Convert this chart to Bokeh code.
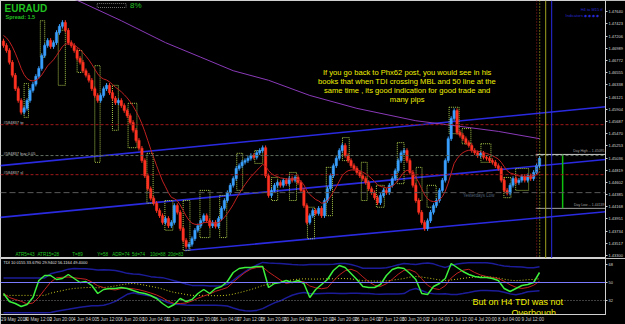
import pandas as pd
from bokeh.plotting import figure
from bokeh.layouts import column
from bokeh.models import Range1d, FixedTicker, Span, Label
from bokeh.embed import file_html
from bokeh.resources import INLINE
from bokeh.core.properties import value

# ---------------- data ----------------
closes = [
    1.4704, 1.4695, 1.4674, 1.4651, 1.4627, 1.4606, 1.4585, 1.4592, 1.4606, 1.4624,
    1.4635, 1.4649, 1.4663, 1.4686, 1.4704, 1.4713, 1.4702, 1.4709, 1.4727, 1.4738,
    1.4745, 1.4731, 1.4709, 1.4704, 1.4695, 1.4681, 1.4674, 1.4659, 1.4651, 1.4642,
    1.4627, 1.4615, 1.4606, 1.4615, 1.4627, 1.4633, 1.4620, 1.4610, 1.4602, 1.4606,
    1.4597, 1.4588, 1.4579, 1.4567, 1.4553, 1.4535, 1.4521, 1.4499, 1.4472, 1.4449,
    1.4432, 1.4423, 1.4410, 1.4401, 1.4389, 1.4396, 1.4383, 1.4389, 1.4419, 1.4407,
    1.4378, 1.4357, 1.4346, 1.4350, 1.4360, 1.4375, 1.4383, 1.4392, 1.4401, 1.4392,
    1.4383, 1.4389, 1.4382, 1.4396, 1.4414, 1.4428, 1.4442, 1.4455, 1.4467, 1.4485,
    1.4490, 1.4496, 1.4499, 1.4503, 1.4508, 1.4505, 1.4513, 1.4517, 1.4522, 1.4472,
    1.4437, 1.4446, 1.4455, 1.4460, 1.4455, 1.4464, 1.4458, 1.4467, 1.4464, 1.4469,
    1.4460, 1.4446, 1.4419, 1.4389, 1.4401, 1.4410, 1.4405, 1.4414, 1.4401, 1.4428,
    1.4449, 1.4472, 1.4490, 1.4503, 1.4517, 1.4526, 1.4508, 1.4499, 1.4490, 1.4485,
    1.4478, 1.4472, 1.4467, 1.4460, 1.4449, 1.4442, 1.4433, 1.4424, 1.4437, 1.4446,
    1.4442, 1.4455, 1.4467, 1.4481, 1.4499, 1.4513, 1.4517, 1.4499, 1.4478, 1.4455,
    1.4428, 1.4407, 1.4389, 1.4378, 1.4392, 1.4407, 1.4419, 1.4428, 1.4446, 1.4464,
    1.4499, 1.4538, 1.4574, 1.4588, 1.4549, 1.4544, 1.4538, 1.4531, 1.4526, 1.4517,
    1.4513, 1.4508, 1.4512, 1.4505, 1.4503, 1.4499, 1.4496, 1.4490, 1.4485, 1.4464,
    1.4446, 1.4441, 1.4455, 1.4467, 1.4460, 1.4464, 1.4471, 1.4464, 1.4472, 1.4467,
    1.4478, 1.4490, 1.4503,
]
first_open = 1.4712
ma_seed = 1.4725

purple_bars = [20, 26, 40, 55, 67, 78, 90, 104, 120, 140, 152, 168, 182]
purple_vals = [1.4795, 1.4782, 1.4748, 1.4709, 1.4683, 1.4659, 1.4642, 1.4615,
               1.4592, 1.4570, 1.4562, 1.4551, 1.4538]

channel_x0 = [-1.0, -1.0, 61.6]
channel_y0 = [1.4490, 1.4398, 1.4339]
channel_x1 = [204.4, 204.4, 204.4]
channel_y1 = [1.4595, 1.4501, 1.4408]

box_start = [7, 12.5, 18.6, 25, 31, 37, 42.3, 48.7, 54.8, 61, 66.7, 73.4, 79.2, 85.3, 91,
             97.1, 103.2, 109.6, 115.1, 121.5, 126.6, 133.7, 140.1, 143.8, 151.3, 155.7,
             162.1, 169.9, 173.9]
box_end = [8.5, 14, 21, 26.7, 32.8, 39, 45.3, 50.8, 57.5, 63.3, 70.1, 75.8, 81.2, 88, 93.1,
           99.5, 105.6, 111.7, 117.4, 123.5, 129.3, 136, 142.1, 146.9, 154.7, 158.7,
           165.5, 172.3, 178.3]
box_high = [1.4636, 1.4748, 1.4731, 1.4695, 1.4668, 1.4633, 1.4601, 1.4512, 1.4428, 1.4428,
            1.4446, 1.4437, 1.4512, 1.4517, 1.4469, 1.4478, 1.4416, 1.4487, 1.4540, 1.4496,
            1.4455, 1.4531, 1.4487, 1.4455, 1.4594, 1.4556, 1.4529, 1.4469, 1.4485]
box_low = [1.4576, 1.4683, 1.4633, 1.4656, 1.4496, 1.4553, 1.4522, 1.4423, 1.4375, 1.4339,
           1.4362, 1.4362, 1.4446, 1.4494, 1.4428, 1.4428, 1.4360, 1.4401, 1.4499, 1.4428,
           1.4416, 1.4458, 1.4428, 1.4416, 1.4547, 1.4529, 1.4496, 1.4433, 1.4446]

order_levels = [1.4563, 1.4508, 1.4474]
order_names = ["#584837 tp", "#584837 buy 0.05", "#584837 sl"]
grey_level = 1.4442
day_high = 1.4510
day_low = 1.4414

price_ticks = [1.47640, 1.47423, 1.47206, 1.46989, 1.46772, 1.46555, 1.46338, 1.46121,
               1.45904, 1.45687, 1.45470, 1.45253, 1.45036, 1.44819, 1.44602, 1.44385,
               1.44168, 1.43951, 1.43734, 1.43517, 1.43300]

date_bars = [0, 8, 16, 24, 32, 40, 48, 56, 64, 72, 80, 88, 96, 104, 112, 120, 128, 136,
             144, 152, 160, 168, 176]
date_labels = ["29 May 2014", "30 May 12:00", "2 Jun 20:00", "4 Jun 04:00", "5 Jun 12:00",
               "6 Jun 20:00", "10 Jun 04:00", "11 Jun 12:00", "12 Jun 20:00", "16 Jun 04:00",
               "17 Jun 12:00", "18 Jun 20:00", "20 Jun 04:00", "23 Jun 12:00", "24 Jun 20:00",
               "26 Jun 04:00", "27 Jun 12:00", "30 Jun 20:00", "2 Jul 04:00", "3 Jul 12:00",
               "4 Jul 20:00", "8 Jul 04:00", "9 Jul 12:00"]

tdi_bars = list(range(0, 183, 2))
tdi_green = [39, 31, 29, 26, 28, 35, 52, 57, 57, 53, 54, 58, 54, 50, 51, 47, 39, 43, 44, 44,
             45, 44, 42, 40, 39, 37, 34, 29, 25, 28, 34, 31, 33, 39, 43, 39, 44, 46, 51, 60,
             64, 65, 65, 66, 66, 45, 49, 50, 52, 50, 52, 49, 35, 43, 48, 53, 62, 67, 65, 59,
             53, 46, 45, 45, 48, 57, 63, 65, 64, 59, 53, 39, 38, 46, 49, 54, 69, 65, 61, 58,
             56, 55, 55, 54, 52, 44, 41, 44, 47, 48, 50, 60]
tdi_ticks = [32, 50, 68]

stats_text = ["ATR5=43", "ATR15=28", "T=89", "Y=58", "ADR=74", "5d=74", "10d=88", "20d=83"]
note_lines = ["If you go back to Phx62 post, you would see in his",
              "books that when TDI crossing MBL and 50 line at the",
              "same time , its good indication for good trade and",
              "many pips"]
tdi_note = ["But on H4 TDI was not", "Overbough"]

# ---------------- layout helpers (pixel -> data) ----------------
def bx(x):
    return (x - 3) / 2.955

def py(y):
    return 1.4784 - 0.000178 * y

def ty(y):
    return 332 - y

FONT = value("Liberation Sans")

# ---------------- derived series ----------------
n = len(closes)
bars = list(range(n))
opens = [first_open] + closes[:-1]
wick = 0.0004
up = [c >= o for o, c in zip(opens, closes)]
col = ["#3aa0ff" if u else "#ff3222" for u in up]
body_top = [max(o, c) for o, c in zip(opens, closes)]
body_bot = [min(o, c) for o, c in zip(opens, closes)]
highs = [t + wick for t in body_top]
lows = [b - wick for b in body_bot]
ma = pd.Series([ma_seed] + closes).ewm(span=12, adjust=False).mean().tolist()[1:]

g = pd.Series(tdi_green, dtype=float)
sig = g.rolling(4, min_periods=1).mean()
mbl = g.rolling(17, min_periods=8).mean().bfill()
sd = g.rolling(17, min_periods=8).std(ddof=0).bfill()
up_band = mbl + 1.6185 * sd
lo_band = mbl - 1.6185 * sd

# ---------------- main price panel ----------------
xr = Range1d(bx(0), bx(607))
p = figure(width=625, height=258, x_range=xr, y_range=Range1d(py(258), py(0)),
           output_backend="svg", toolbar_location=None, x_axis_location=None,
           y_axis_location="right", background_fill_color="black",
           border_fill_color="black", min_border_left=0, min_border_right=18,
           min_border_top=0, min_border_bottom=0, outline_line_color="#d0d0d0")
p.grid.visible = False
ax = p.yaxis[0]
ax.ticker = FixedTicker(ticks=price_ticks)
ax.major_label_overrides = {t: "%.5f" % t for t in price_ticks}
ax.major_label_text_font_size = "4px"
ax.major_label_text_color = "#d8d8d8"
ax.major_label_text_font = "Liberation Sans"
ax.axis_line_color = "#d0d0d0"
ax.major_tick_line_color = "#d0d0d0"
ax.major_tick_out = 2
ax.major_tick_in = 0
ax.minor_tick_line_color = None
ax.major_label_standoff = 1

# horizontal levels
for lvl, c in zip(order_levels, ["#a01818", "#5f6f5f", "#a01818"]):
    p.add_layout(Span(location=lvl, dimension="width", line_color=c, line_dash="3 2",
                      line_width=1))
p.add_layout(Span(location=grey_level, dimension="width", line_color="#5a5a5a",
                  line_dash="6 3", line_width=1))

# channel lines
p.segment(channel_x0, channel_y0, channel_x1, channel_y1, line_color="#2a2ae0", line_width=1.6)

# purple MA
p.line(purple_bars, purple_vals, line_color="#8a3ab8", line_width=1)

# boxes
p.quad(left=box_start, right=box_end, top=box_high, bottom=box_low, fill_color=None,
       line_color="#a8c84a", line_dash="1 1", line_width=1)

# candles
p.segment(bars, highs, bars, lows, line_color=col, line_width=1)
p.vbar(x=bars, width=0.8, top=body_top, bottom=body_bot, fill_color=col, line_color=col,
       line_width=0.5)

# red moving average
p.line(bars, ma, line_color="#c02020", line_width=1)

# vertical lines at right
p.add_layout(Span(location=bx(538), dimension="height", line_color="#a02020", line_dash="1 2"))
p.add_layout(Span(location=bx(541), dimension="height", line_color="#c8c820", line_dash="1 2"))
p.add_layout(Span(location=bx(547), dimension="height", line_color="#a0a020", line_width=1))
p.add_layout(Span(location=bx(553), dimension="height", line_color="#2a2ae0", line_width=1))
p.segment([bx(537), bx(537)], [day_high, day_low], [bx(607), bx(607)], [day_high, day_low],
          line_color=["#c8c8c8", "#a0a0a0"], line_width=1)
p.segment([bx(564)], [day_high], [bx(564)], [day_low], line_color="#10c010", line_width=1.5)

# texts
p.text([bx(4)], [py(8)], text=["EURAUD"], text_font=FONT, text_font_size="10px",
       text_font_style="bold", text_color="#20c020", text_baseline="middle")
p.text([bx(5)], [py(16)], text=["Spread: 1.5"], text_font=FONT, text_font_size="5.5px",
       text_font_style="bold", text_color="#20c020", text_baseline="middle")
p.quad(left=[bx(97)], right=[bx(126)], top=[py(3)], bottom=[py(7)], fill_color=None,
       line_color="#707070", line_dash="1 1")
p.text([bx(130)], [py(5)], text=["8%"], text_font=FONT, text_font_size="8px",
       text_color="#20c020", text_baseline="middle")
p.text([bx(3)] * 3, [py(122), py(152.5), py(171.5)], text=order_names, text_font=FONT,
       text_font_size="4px", text_color="#c0c0c0", text_baseline="middle")
stat_x = [15, 37, 72, 97, 112, 132, 150, 168]
p.text([bx(x) for x in stat_x], [py(254)] * len(stats_text), text=stats_text, text_font=FONT,
       text_font_size="4.6px", text_color="#20c020", text_baseline="middle")
p.text([bx(408)] * 4, [py(72), py(81), py(90), py(98.5)], text=note_lines, text_font=FONT,
       text_font_size="7.6px", text_color="#f0f000", text_align="center",
       text_baseline="middle")
p.text([bx(464)], [py(195)], text=["Yesterdays Low"], text_font=FONT, text_font_size="4.5px",
       text_color="#50607a", text_baseline="middle")
p.text([bx(606)] * 2, [py(152), py(206)], text=["Day High -- 1.45095", "Day Low -- 1.44139"],
       text_font=FONT, text_font_size="3.5px", text_color="#a0a0a0", text_align="right",
       text_baseline="bottom")
p.text([bx(604)], [py(9)], text=["H4 to M15 tf"], text_font=FONT, text_font_size="4px",
       text_color="#2a2ad0", text_align="right", text_baseline="middle")
p.text([bx(604)], [py(15)], text=["Indicators \u25c6 \u25c6 \u25c6 \u25c6 \u2193"], text_font=FONT,
       text_font_size="4px", text_color="#2a2ad0", text_align="right", text_baseline="middle")

# ---------------- TDI panel ----------------
q = figure(width=625, height=66, x_range=xr, y_range=Range1d(ty(314), ty(258)),
           output_backend="svg", toolbar_location=None, y_axis_location="right",
           background_fill_color="black", border_fill_color="black", min_border_left=0,
           min_border_right=18, min_border_top=0, min_border_bottom=10,
           outline_line_color="#d0d0d0")
q.grid.visible = False
qa = q.yaxis[0]
qa.ticker = FixedTicker(ticks=tdi_ticks)
qa.major_label_text_font_size = "4px"
qa.major_label_text_color = "#d8d8d8"
qa.axis_line_color = "#d0d0d0"
qa.major_tick_line_color = "#d0d0d0"
qa.major_tick_out = 2
qa.major_tick_in = 0
qa.minor_tick_line_color = None
qa.major_label_standoff = 1
xa = q.xaxis[0]
label_pos = [b + 3.7 for b in date_bars]
xa.ticker = FixedTicker(ticks=label_pos)
xa.major_label_overrides = {pos: lab for pos, lab in zip(label_pos, date_labels)}
xa.major_label_text_font_size = "4.6px"
xa.major_label_text_font = "Liberation Sans"
xa.major_label_text_color = "#d0d0d0"
xa.axis_line_color = "#d0d0d0"
xa.major_tick_out = 0
xa.major_tick_in = 0
xa.minor_tick_line_color = None
xa.major_label_standoff = 2

q.add_layout(Span(location=50, dimension="width", line_color="#7a7aff", line_width=1))
q.add_layout(Span(location=32, dimension="width", line_color="#808080", line_dash="1 2"))
q.line(tdi_bars, up_band, line_color="#1c1c9a", line_width=1.5)
q.line(tdi_bars, lo_band, line_color="#1c1c9a", line_width=1.5)
q.line(tdi_bars, mbl, line_color="#c8c820", line_dash="1 2", line_width=1)
q.line(tdi_bars, sig, line_color="#c02020", line_width=1)
q.line(tdi_bars, tdi_green, line_color="#3cf03c", line_width=1.5)
q.text([bx(3)], [ty(262)], text=["TDI 10 0155 33.6790 29.9402 56.1164 49.4000"], text_font=FONT,
       text_font_size="4px", text_color="#e0e0e0", text_baseline="middle")
q.add_layout(Label(x=bx(519), y=ty(301), text=tdi_note[0], text_font="Liberation Sans",
                   text_font_size="9px", text_color="#f0f000", text_align="center",
                   text_baseline="middle"))
q.add_layout(Label(x=bx(535), y=ty(312), text=tdi_note[1], text_font="Liberation Sans",
                   text_font_size="9px", text_color="#f0f000", text_align="center",
                   text_baseline="middle"))

layout = column(p, q, spacing=0)
open("out.html", "w").write(file_html(layout, INLINE))
